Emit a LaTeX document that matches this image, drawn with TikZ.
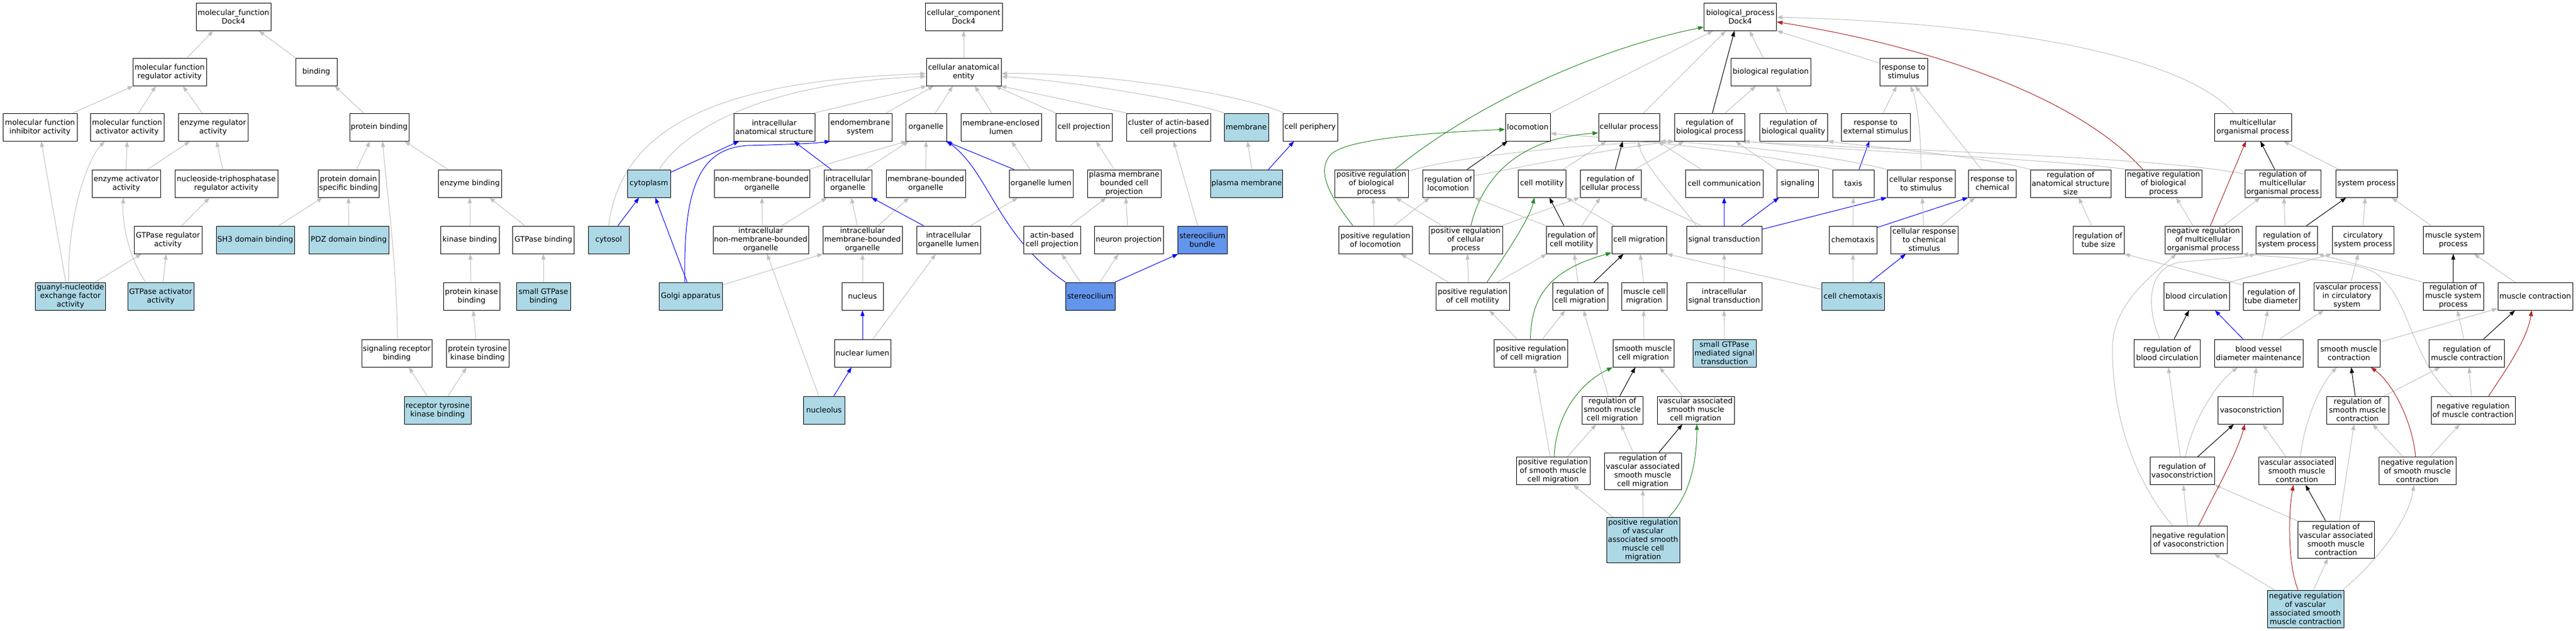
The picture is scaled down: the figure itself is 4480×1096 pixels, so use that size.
\documentclass[tikz,border=0pt]{standalone}
\usepackage{fontspec}
\setmainfont{DejaVu Sans}
\usetikzlibrary{arrows.meta}
\definecolor{lblue}{HTML}{ADD8E6}
\definecolor{cblue}{HTML}{6495ED}
\definecolor{egray}{HTML}{C0C0C0}
\definecolor{fgreen}{HTML}{228B22}
\definecolor{fred}{HTML}{B22222}
\pgfdeclarelayer{back}
\pgfdeclarelayer{edges}
\pgfsetlayers{back,edges,main}
\newcommand{\edgeNS}[5][ge]{\draw[#1] ([xshift=#3pt]#2.north) -- ([xshift=#5pt]#4.south);}
\begin{document}
\begin{tikzpicture}[x=1pt,y=-1pt,
  nd/.style={draw=black, line width=0.9pt, fill=white, rectangle, align=center,
     minimum height=48pt, inner xsep=1.5pt, inner ysep=1pt, font=\fontsize{13}{15}\selectfont},
  lb/.style={nd, fill=lblue},
  cb/.style={nd, fill=cblue},
  tip/.style={-{Triangle[length=10pt,width=7pt]}},
  ge/.style={draw=egray, line width=1pt, tip},
  be/.style={draw=blue, line width=1pt, tip},
  ke/.style={draw=black, line width=1pt, tip},
  gre/.style={draw=fgreen, line width=1pt, tip},
  ree/.style={draw=fred, line width=1pt, tip}]
\begin{pgfonlayer}{back}
\fill[white] (0,0) rectangle (4480,1096);
\end{pgfonlayer}
\useasboundingbox (0,0) rectangle (4480,1096);
% ---------------- molecular function ----------------
\node[nd, minimum width=130pt] (mf) at (406,29) {molecular\_function\\Dock4};
\node[nd, minimum width=128pt] (mfreg) at (295,125) {molecular function\\regulator activity};
\node[nd, minimum width=72pt] (binding) at (550,125) {binding};
\node[nd, minimum width=129pt] (mfinh) at (69.5,221) {molecular function\\inhibitor activity};
\node[nd, minimum width=128pt] (mfact) at (221,221) {molecular function\\activator activity};
\node[nd, minimum width=121pt] (enzreg) at (370.5,221) {enzyme regulator\\activity};
\node[nd, minimum width=103pt] (protbind) at (659.5,221) {protein binding};
\node[nd, minimum width=119pt] (enzact) at (219.5,319) {enzyme activator\\activity};
\node[nd, minimum width=179pt] (ntpreg) at (393.5,319) {nucleoside-triphosphatase\\regulator activity};
\node[nd, minimum width=106pt] (pdsb) at (606,319) {protein domain\\specific binding};
\node[nd, minimum width=110pt] (enzbind) at (817,319) {enzyme binding};
\node[nd, minimum width=118pt] (gtpreg) at (292,417) {GTPase regulator\\activity};
\node[lb, minimum width=136pt] (sh3) at (444,417) {SH3 domain binding};
\node[lb, minimum width=139pt] (pdz) at (606.5,417) {PDZ domain binding};
\node[nd, minimum width=102pt] (kinbind) at (817,417) {kinase binding};
\node[nd, minimum width=107pt] (gtpbind) at (945,417) {GTPase binding};
\node[lb, minimum width=71pt] (cytosol) at (1058.5,417) {cytosol};
\node[lb, minimum width=122pt] (gnef) at (122.5,515) {guanyl-nucleotide\\exchange factor\\activity};
\node[lb, minimum width=115pt] (gtpact) at (279.5,515) {GTPase activator\\activity};
\node[nd, minimum width=98pt] (pkb) at (820,515) {protein kinase\\binding};
\node[lb, minimum width=94pt] (sgtpb) at (945,515) {small GTPase\\binding};
\node[nd, minimum width=122pt] (srb) at (690,614) {signaling receptor\\binding};
\node[nd, minimum width=109pt] (ptkb) at (830.5,614) {protein tyrosine\\kinase binding};
\node[lb, minimum width=116pt] (rtkb) at (761,713) {receptor tyrosine\\kinase binding};
% ---------------- cellular component ----------------
\node[nd, minimum width=134pt] (cc) at (1676,29) {cellular\_component\\Dock4};
\node[nd, minimum width=130pt] (cae) at (1676,125) {cellular anatomical\\entity};
\node[nd, minimum width=141pt] (ias) at (1346.5,221) {intracellular\\anatomical structure};
\node[nd, minimum width=110pt] (endo) at (1496,221) {endomembrane\\system};
\node[nd, minimum width=71pt] (organelle) at (1610.5,221) {organelle};
\node[nd, minimum width=140pt] (mel) at (1741,221) {membrane-enclosed\\lumen};
\node[nd, minimum width=98pt] (cellproj) at (1885,221) {cell projection};
\node[nd, minimum width=146pt] (cabcp) at (2032,221) {cluster of actin-based\\cell projections};
\node[lb, minimum width=77pt] (membrane) at (2167.5,221) {membrane};
\node[nd, minimum width=95pt] (cellperiph) at (2278.5,221) {cell periphery};
\node[lb, minimum width=75pt] (cytoplasm) at (1128.5,319) {cytoplasm};
\node[nd, minimum width=166pt] (nmbo) at (1325,319) {non-membrane-bounded\\organelle};
\node[nd, minimum width=83pt] (io) at (1474.5,319) {intracellular\\organelle};
\node[nd, minimum width=138pt] (mbo) at (1610,319) {membrane-bounded\\organelle};
\node[nd, minimum width=111pt] (olumen) at (1810.5,319) {organelle lumen};
\node[nd, minimum width=128pt] (pmbcp) at (1955,319) {plasma membrane\\bounded cell\\projection};
\node[lb, minimum width=102pt] (pm) at (2168,319) {plasma membrane};
\node[nd, minimum width=166pt] (inmbo) at (1323,417) {intracellular\\non-membrane-bounded\\organelle};
\node[nd, minimum width=138pt] (imbo) at (1500,417) {intracellular\\membrane-bounded\\organelle};
\node[nd, minimum width=111pt] (iol) at (1649.5,417) {intracellular\\organelle lumen};
\node[nd, minimum width=99pt] (abcp) at (1829.5,417) {actin-based\\cell projection};
\node[nd, minimum width=120pt] (np) at (1963,417) {neuron projection};
\node[cb, minimum width=86pt] (sb) at (2091,417) {stereocilium\\bundle};
\node[lb, minimum width=110pt] (golgi) at (1201,515) {Golgi apparatus};
\node[nd, minimum width=72pt] (nucleus) at (1500,515) {nucleus};
\node[cb, minimum width=86pt] (stereocilium) at (1896,515) {stereocilium};
\node[nd, minimum width=98pt] (nl) at (1500,614) {nuclear lumen};
\node[lb, minimum width=72pt] (nucleolus) at (1433,713) {nucleolus};
% ---------------- biological process ----------------
\node[nd, minimum width=126pt] (bp) at (3026.5,29) {biological\_process\\Dock4};
\node[nd, minimum width=139pt] (bioreg) at (3079.5,125) {biological regulation};
\node[nd, minimum width=83pt] (rts) at (3310.5,125) {response to\\stimulus};
\node[nd, minimum width=78pt] (locomotion) at (2657,221) {locomotion};
\node[nd, minimum width=106pt] (cellproc) at (2833,221) {cellular process};
\node[nd, minimum width=122pt] (rbp) at (2973,221) {regulation of\\biological process};
\node[nd, minimum width=118pt] (rbq) at (3119,221) {regulation of\\biological quality};
\node[nd, minimum width=120pt] (rtes) at (3262,221) {response to\\external stimulus};
\node[nd, minimum width=134pt] (mop) at (3918,221) {multicellular\\organismal process};
\node[nd, minimum width=128pt] (prbp) at (2385,319) {positive regulation\\of biological\\process};
\node[nd, minimum width=89pt] (rloc) at (2518.5,319) {regulation of\\locomotion};
\node[nd, minimum width=83pt] (cellmot) at (2681.5,319) {cell motility};
\node[nd, minimum width=106pt] (rcp) at (2801,319) {regulation of\\cellular process};
\node[nd, minimum width=135pt] (cellcomm) at (2998.5,319) {cell communication};
\node[nd, minimum width=72pt] (signaling) at (3126,319) {signaling};
\node[nd, minimum width=72pt] (taxis) at (3223,319) {taxis};
\node[nd, minimum width=118pt] (crs) at (3341,319) {cellular response\\to stimulus};
\node[nd, minimum width=83pt] (rtc) at (3465,319) {response to\\chemical};
\node[nd, minimum width=140pt] (rass) at (3601,319) {regulation of\\anatomical structure\\size};
\node[nd, minimum width=133pt] (nrbp) at (3762.5,319) {negative regulation\\of biological\\process};
\node[nd, minimum width=132pt] (rmop) at (3970,319) {regulation of\\multicellular\\organismal process};
\node[nd, minimum width=107pt] (sysproc) at (4115.5,319) {system process};
\node[nd, minimum width=128pt] (prloc) at (2392,417) {positive regulation\\of locomotion};
\node[nd, minimum width=128pt] (prcp) at (2549,417) {positive regulation\\of cellular\\process};
\node[nd, minimum width=88pt] (rcm) at (2733,417) {regulation of\\cell motility};
\node[nd, minimum width=95pt] (cellmig) at (2850.5,417) {cell migration};
\node[nd, minimum width=131pt] (st) at (2998.5,417) {signal transduction};
\node[nd, minimum width=83pt] (chemotaxis) at (3222.5,417) {chemotaxis};
\node[nd, minimum width=117pt] (crcs) at (3346.5,417) {cellular response\\to chemical\\stimulus};
\node[nd, minimum width=89pt] (rtsz) at (3649.5,417) {regulation of\\tube size};
\node[nd, minimum width=134pt] (nrmop) at (3832,417) {negative regulation\\of multicellular\\organismal process};
\node[nd, minimum width=107pt] (rsp) at (3977,417) {regulation of\\system process};
\node[nd, minimum width=107pt] (csp) at (4109.5,417) {circulatory\\system process};
\node[nd, minimum width=105pt] (msp) at (4266.5,417) {muscle system\\process};
\node[nd, minimum width=128pt] (prcmot) at (2561,515) {positive regulation\\of cell motility};
\node[nd, minimum width=96pt] (rcmig) at (2748,515) {regulation of\\cell migration};
\node[nd, minimum width=79pt] (mcm) at (2859.5,515) {muscle cell\\migration};
\node[nd, minimum width=131pt] (ist) at (2998.5,515) {intracellular\\signal transduction};
\node[lb, minimum width=109pt] (cchem) at (3222.5,515) {cell chemotaxis};
\node[nd, minimum width=114pt] (bc) at (3820,515) {blood circulation};
\node[nd, minimum width=98pt] (rtd) at (3950,515) {regulation of\\tube diameter};
\node[nd, minimum width=115pt] (vpcs) at (4081.5,515) {vascular process\\in circulatory\\system};
\node[nd, minimum width=105pt] (rmsp) at (4266.5,515) {regulation of\\muscle system\\process};
\node[nd, minimum width=130pt] (mc) at (4409,515) {muscle contraction};
\node[nd, minimum width=128pt] (prcmig) at (2662.5,614) {positive regulation\\of cell migration};
\node[nd, minimum width=106pt] (smcm) at (2858,614) {smooth muscle\\cell migration};
\node[lb, minimum width=110pt] (sgtpst) at (2999,614) {small GTPase\\mediated signal\\transduction};
\node[nd, minimum width=115pt] (rbc) at (3769,614) {regulation of\\blood circulation};
\node[nd, minimum width=154pt] (bvdm) at (3928,614) {blood vessel\\diameter maintenance};
\node[nd, minimum width=108pt] (smc) at (4085,614) {smooth muscle\\contraction};
\node[nd, minimum width=131pt] (rmc) at (4290,614) {regulation of\\muscle contraction};
\node[nd, minimum width=106pt] (rsmcm) at (2804,713) {regulation of\\smooth muscle\\cell migration};
\node[nd, minimum width=134pt] (vasmcm) at (2949,713) {vascular associated\\smooth muscle\\cell migration};
\node[nd, minimum width=113pt] (vasoc) at (3914,713) {vasoconstriction};
\node[nd, minimum width=108pt] (rsmc) at (4100,713) {regulation of\\smooth muscle\\contraction};
\node[nd, minimum width=146pt] (nrmc) at (4301,713) {negative regulation\\of muscle contraction};
\node[nd, minimum width=128pt] (prsmcm) at (2701,818.5) {positive regulation\\of smooth muscle\\cell migration};
\node[nd, minimum width=134pt, minimum height=64pt] (rvasmcm) at (2857,819) {regulation of\\vascular associated\\smooth muscle\\cell migration};
\node[nd, minimum width=112pt] (rvasoc) at (3795,818.5) {regulation of\\vasoconstriction};
\node[nd, minimum width=133pt] (vasmc) at (3994.5,818.5) {vascular associated\\smooth muscle\\contraction};
\node[nd, minimum width=134pt] (nrsmc) at (4204,818.5) {negative regulation\\of smooth muscle\\contraction};
\node[lb, minimum width=127pt, minimum height=79pt] (prvasmcm) at (2857.5,938.5) {positive regulation\\of vascular\\associated smooth\\muscle cell\\migration};
\node[nd, minimum width=133pt] (nrvasoc) at (3806.5,938.5) {negative regulation\\of vasoconstriction};
\node[nd, minimum width=133pt, minimum height=64pt] (rvasmc) at (4062.5,938) {regulation of\\vascular associated\\smooth muscle\\contraction};
\node[lb, minimum width=133pt, minimum height=65pt] (nrvasmc) at (4009.5,1058.5) {negative regulation\\of vascular\\associated smooth\\muscle contraction};

\begin{pgfonlayer}{edges}
% MF edges
\edgeNS{mfreg}{30}{mf}{-35}
\edgeNS{binding}{-36}{mf}{44}
\edgeNS{mfinh}{57}{mfreg}{-63}
\edgeNS{mfact}{20}{mfreg}{-24}
\edgeNS{enzreg}{-19}{mfreg}{23}
\edgeNS{protbind}{-27}{binding}{32}
\edgeNS{enzact}{0}{mfact}{0}
\edgeNS{enzact}{37}{enzreg}{-40}
\edgeNS{ntpreg}{-6}{enzreg}{6}
\edgeNS{pdsb}{14}{protbind}{-16}
\edgeNS{enzbind}{-38}{protbind}{44}
\draw[ge] ([xshift=1pt]srb.north) .. controls (690,450) and (672,330) .. ([xshift=6pt]protbind.south);
\edgeNS{gtpreg}{24}{ntpreg}{-29}
\edgeNS{sh3}{40}{pdsb}{-45}
\edgeNS{pdz}{0}{pdsb}{0}
\edgeNS{kinbind}{0}{enzbind}{0}
\edgeNS{gtpbind}{-32}{enzbind}{34}
\edgeNS{gnef}{-8}{mfinh}{2}
\draw[ge] ([xshift=-3pt]gnef.north) .. controls (117,380) and (150,280) .. ([xshift=-39pt]mfact.south);
\edgeNS{gnef}{43}{gtpreg}{-46}
\draw[ge] ([xshift=-26pt]gtpact.north) .. controls (225,450) and (212,390) .. ([xshift=-5pt]enzact.south);
\edgeNS{gtpact}{4}{gtpreg}{-3}
\edgeNS{pkb}{-1}{kinbind}{1}
\edgeNS{sgtpb}{0}{gtpbind}{0}
\edgeNS{ptkb}{-3}{pkb}{3}
\edgeNS{rtkb}{-18}{srb}{21}
\edgeNS{rtkb}{18}{ptkb}{-19}
% CC edges
\edgeNS{cae}{0}{cc}{0}
\edgeNS{ias}{69}{cae}{-64}
\edgeNS{endo}{45}{cae}{-52}
\edgeNS{organelle}{16}{cae}{-19}
\edgeNS{mel}{-16}{cae}{19}
\edgeNS{cellproj}{-49}{cae}{55}
\edgeNS{cabcp}{-73}{cae}{64}
\draw[ge] ([xshift=-38pt]membrane.north) .. controls (2050,170) and (1850,140) .. ([yshift=-8pt]cae.east);
\draw[ge] ([xshift=-45pt]cellperiph.north) .. controls (2150,160) and (1900,125) .. ([yshift=-3pt]cae.east);
\draw[ge] (cytosol.north) .. controls (1080,220) and (1250,140) .. ([yshift=-3pt]cae.west);
\draw[ge] ([xshift=18pt]cytoplasm.north) .. controls (1180,240) and (1300,145) .. ([yshift=-8pt]cae.west);
\draw[be] ([yshift=-5pt]cytoplasm.north east) -- ([xshift=-61pt]ias.south);
\edgeNS[be]{golgi}{-6}{cytoplasm}{11}
\draw[be] ([xshift=-10pt]golgi.north) .. controls (1188,330) and (1215,258) .. (1300,253) .. controls (1380,251) and (1420,249) .. ([xshift=-52pt]endo.south);
\draw[ge] ([yshift=-5pt]golgi.north east) -- ([xshift=-69pt]imbo.south);
\edgeNS{nmbo}{81}{organelle}{-33}
\edgeNS[be]{io}{-29}{ias}{34}
\edgeNS{io}{31}{organelle}{-30}
\edgeNS{mbo}{0}{organelle}{0}
\edgeNS[be]{olumen}{-47}{organelle}{34}
\edgeNS{olumen}{-19}{mel}{18}
\edgeNS{pmbcp}{-17}{cellproj}{21}
\edgeNS{pm}{9}{membrane}{2}
\edgeNS[be]{pm}{38}{cellperiph}{-28}
\edgeNS{inmbo}{3}{nmbo}{0}
\edgeNS{inmbo}{36}{io}{-36}
\edgeNS{imbo}{-9}{io}{6}
\edgeNS{imbo}{27}{mbo}{-29}
\edgeNS[be]{iol}{-43}{io}{41}
\edgeNS{iol}{38}{olumen}{-40}
\edgeNS{abcp}{31}{pmbcp}{-31}
\edgeNS{np}{-2}{pmbcp}{3}
\edgeNS{sb}{-8}{cabcp}{9}
\edgeNS{stereocilium}{-17}{abcp}{17}
\edgeNS{stereocilium}{17}{np}{-18}
\edgeNS[be]{stereocilium}{43}{sb}{-42}
\draw[be] ([xshift=-43pt]stereocilium.north) .. controls (1735,410) and (1720,300) .. ([xshift=36pt]organelle.south);
\edgeNS{nucleus}{0}{imbo}{0}
\edgeNS[be]{nl}{0}{nucleus}{0}
\edgeNS{nl}{18}{iol}{-22}
\edgeNS[be]{nucleolus}{17}{nl}{-19}
\edgeNS{nucleolus}{-9}{inmbo}{11}
\edgeNS[be]{cytosol}{16}{cytoplasm}{-17}
% BP edges
\draw[gre] ([xshift=41pt]prbp.north) .. controls (2540,200) and (2750,90) .. ([yshift=-18pt]bp.west);
\edgeNS{locomotion}{39}{bp}{-47}
\edgeNS{cellproc}{25}{bp}{-25}
\edgeNS[ke]{rbp}{5}{bp}{-10}
\edgeNS{bioreg}{-13}{bp}{16}
\draw[ge] ([yshift=-9pt]rts.north west) -- (bp.south east);
\draw[ree] ([xshift=-36pt]nrbp.north) .. controls (3610,165) and (3350,80) .. ([yshift=-9pt]bp.east);
\draw[ge] ([xshift=-33pt]mop.north) .. controls (3800,100) and (3500,40) .. ([yshift=-1pt]bp.east);
\edgeNS{rbp}{27}{bioreg}{-26}
\edgeNS{rbq}{-11}{bioreg}{10}
\edgeNS{rtes}{13}{rts}{-12}
\draw[ge] (crs.north) .. controls (3341,240) and (3335,180) .. ([xshift=12pt]rts.south);
\edgeNS{rtc}{-19}{rts}{20}
\edgeNS[ke]{rloc}{33}{locomotion}{-35}
\draw[ge] ([yshift=-3pt]prbp.north east) .. controls (2520,275) and (2720,252) .. (rbp.south west);
\draw[ge] ([yshift=-11pt]rloc.north east) .. controls (2650,290) and (2800,258) .. (rbp.south west);
\edgeNS{cellmot}{37}{cellproc}{-39}
\edgeNS[ke]{rcp}{8}{cellproc}{-11}
\edgeNS{rcp}{42}{rbp}{-44}
\edgeNS{cellcomm}{-40}{cellproc}{50}
\edgeNS{signaling}{-36}{rbp}{45}
\draw[ge] ([xshift=-48pt]st.north) .. controls (2910,340) and (2860,290) .. ([xshift=16pt]cellproc.south);
\draw[ge] ([xshift=-39pt]st.north) -- (rcp.south east);
\edgeNS[be]{st}{0}{cellcomm}{0}
\edgeNS[be]{st}{30}{signaling}{-32}
\draw[be] ([yshift=-6pt]st.north east) -- (crs.south west);
\edgeNS[be]{taxis}{10}{rtes}{-11}
\draw[ge] (taxis.north west) .. controls (3000,255) and (2800,240) .. ([yshift=-11pt]locomotion.east);
\draw[ge] (crs.north west) .. controls (3150,262) and (2950,248) .. (cellproc.south east);
\draw[ge] (rass.north west) .. controls (3450,272) and (3250,255) .. (rbq.south east);
\draw[ge] ([xshift=-62pt]nrbp.north) .. controls (3550,275) and (3200,262) .. ([xshift=60pt]rbp.south);
\draw[ge] ([yshift=-8pt]rmop.north west) .. controls (3750,272) and (3300,262) .. ([xshift=54pt]rbp.south);
\edgeNS[ke]{rmop}{-14}{mop}{13}
\edgeNS{sysproc}{-48}{mop}{53}
\edgeNS{nrmop}{-18}{nrbp}{22}
\edgeNS{nrmop}{35}{rmop}{-39}
\edgeNS[ree]{nrmop}{12}{mop}{-12}
\edgeNS{rsp}{-3}{rmop}{2}
\edgeNS[ke]{rsp}{34}{sysproc}{-35}
\edgeNS{csp}{0}{sysproc}{-2}
\edgeNS{msp}{-38}{sysproc}{44}
\edgeNS{rtsz}{-12}{rass}{14}
\draw[gre] ([xshift=-39pt]prloc.north) .. controls (2320,350) and (2285,300) .. (2315,268) .. controls (2345,240) and (2500,230) .. ([yshift=-4pt]locomotion.west);
\edgeNS{prloc}{-2}{prbp}{3}
\edgeNS{prloc}{32}{rloc}{-32}
\edgeNS{prcp}{-41}{prbp}{42}
\draw[gre] ([xshift=9pt]prcp.north) .. controls (2580,300) and (2650,240) .. ([yshift=-10pt]cellproc.west);
\draw[ge] ([xshift=62pt]prcp.north) -- (rcp.south west);
\edgeNS{rcm}{18}{rcp}{-18}
\edgeNS[ke]{rcm}{-13}{cellmot}{13}
\draw[ge] ([xshift=-44pt]rcm.north) -- (rloc.south east);
\draw[ge] ([xshift=-42pt]cellmig.north) -- (cellmot.south east);
\edgeNS{prcmot}{-7}{prcp}{3}
\edgeNS{prcmot}{-42}{prloc}{44}
\edgeNS{prcmot}{43}{rcm}{-43}
\draw[gre] ([xshift=25pt]prcmot.north) .. controls (2620,440) and (2660,380) .. ([xshift=-13pt]cellmot.south);
\edgeNS{rcmig}{-4}{rcm}{5}
\edgeNS[ke]{rcmig}{24}{cellmig}{-27}
\edgeNS{mcm}{-1}{cellmig}{2}
\draw[ge] ([yshift=12pt]cchem.west) -- (cellmig.south east);
\edgeNS{ist}{0}{st}{0}
\edgeNS{chemotaxis}{0}{taxis}{0}
\draw[be] ([yshift=-3pt]chemotaxis.north east) -- (rtc.south west);
\edgeNS{crcs}{-1}{crs}{2}
\edgeNS{crcs}{29}{rtc}{-30}
\edgeNS{cchem}{0}{chemotaxis}{0}
\edgeNS[be]{cchem}{30}{crcs}{-32}
\edgeNS{sgtpst}{0}{ist}{0}
\draw[gre] ([xshift=-1pt]prcmig.north) .. controls (2663,510) and (2700,468) .. ([yshift=2pt]cellmig.south west);
\edgeNS{prcmig}{-24}{prcmot}{29}
\edgeNS{prcmig}{20}{rcmig}{-26}
\edgeNS{rsmcm}{-7}{rcmig}{6}
\edgeNS{smcm}{1}{mcm}{-1}
\edgeNS[ke]{rsmcm}{13}{smcm}{-14}
\edgeNS{vasmcm}{-23}{smcm}{28}
\edgeNS{prsmcm}{-5}{prcmig}{6}
\draw[gre] ([xshift=2pt]prsmcm.north) .. controls (2705,730) and (2740,670) .. (smcm.south west);
\edgeNS{prsmcm}{25}{rsmcm}{-28}
\edgeNS{rvasmcm}{-17}{rsmcm}{15}
\edgeNS[ke]{rvasmcm}{28}{vasmcm}{-23}
\edgeNS{prvasmcm}{-53}{prsmcm}{35}
\edgeNS{prvasmcm}{0}{rvasmcm}{0}
\draw[gre] ([xshift=45pt]prvasmcm.north) .. controls (2940,860) and (2951,800) .. ([xshift=2pt]vasmcm.south);
% right part
\draw[ge] ([yshift=-5pt]rtd.north west) -- (rtsz.south east);
\draw[ge] (bc.north east) -- (csp.south west);
\draw[ge] ([xshift=-13pt]rbc.north) .. controls (3735,540) and (3730,468) .. (3790,456) .. controls (3850,450) and (3900,448) .. (rsp.south west);
\draw[ge] (rmsp.north west) -- (rsp.south east);
\draw[ge] ([xshift=-37pt]nrmc.north) .. controls (4190,620) and (4192,515) .. (4130,474) .. controls (4090,450) and (3950,447) .. (nrmop.south east);
\draw[ge] ([xshift=-28pt]nrvasoc.north) .. controls (3700,820) and (3672,700) .. (3674,600) .. controls (3676,530) and (3740,480) .. ([xshift=-47pt]nrmop.south);
\edgeNS[ke]{rbc}{12}{bc}{-13}
\edgeNS[be]{bvdm}{-27}{bc}{32}
\edgeNS{bvdm}{6}{rtd}{-6}
\edgeNS{bvdm}{36}{vpcs}{-40}
\draw[ge] ([yshift=-5pt]smc.north east) -- ([yshift=3pt]mc.south west);
\edgeNS[ke]{rmc}{29}{mc}{-35}
\edgeNS{rmc}{-5}{rmsp}{7}
\draw[ree] ([xshift=27pt]nrmc.north) .. controls (4360,640) and (4395,590) .. ([xshift=-6pt]mc.south);
\edgeNS{nrmc}{-3}{rmc}{4}
\edgeNS[ke]{rmsp}{0}{msp}{0}
\edgeNS{mc}{-35}{msp}{36}
\edgeNS{vpcs}{7}{csp}{-8}
\edgeNS{vasoc}{4}{bvdm}{-4}
\edgeNS[ke]{rvasoc}{27}{vasoc}{-29}
\edgeNS{rvasoc}{-3}{rbc}{2}
\draw[ge] ([xshift=6pt]rvasoc.north) .. controls (3810,740) and (3850,670) .. ([xshift=-36pt]bvdm.south);
\edgeNS{vasmc}{-19}{vasoc}{21}
\draw[ge] ([xshift=6pt]vasmc.north) .. controls (4008,730) and (4035,670) .. ([xshift=-21pt]smc.south);
\edgeNS[ke]{rsmc}{-4}{smc}{4}
\edgeNS{rsmc}{46}{rmc}{-46}
\edgeNS{nrsmc}{-25}{rsmc}{26}
\draw[ree] ([xshift=-3pt]nrsmc.north) .. controls (4195,730) and (4160,665) .. ([xshift=38pt]smc.south);
\edgeNS{nrsmc}{22}{nrmc}{-23}
\edgeNS[ke]{rvasmc}{-18}{vasmc}{15}
\edgeNS{rvasmc}{6}{rsmc}{-6}
\draw[ge] (rvasmc.north west) -- (rvasoc.south east);
\edgeNS{nrvasoc}{-2}{rvasoc}{2}
\draw[ree] ([xshift=17pt]nrvasoc.north) .. controls (3850,860) and (3890,790) .. ([xshift=-10pt]vasoc.south);
\edgeNS{nrvasmc}{-54}{nrvasoc}{44}
\draw[ree] ([xshift=-13pt]nrvasmc.north) .. controls (3978,980) and (3980,890) .. ([xshift=-6pt]vasmc.south);
\edgeNS{nrvasmc}{14}{rvasmc}{-14}
\draw[ge] ([xshift=-2pt]nrvasmc.north east) .. controls (4140,970) and (4190,900) .. ([xshift=-6pt]nrsmc.south);
\end{pgfonlayer}
\end{tikzpicture}
\end{document}
